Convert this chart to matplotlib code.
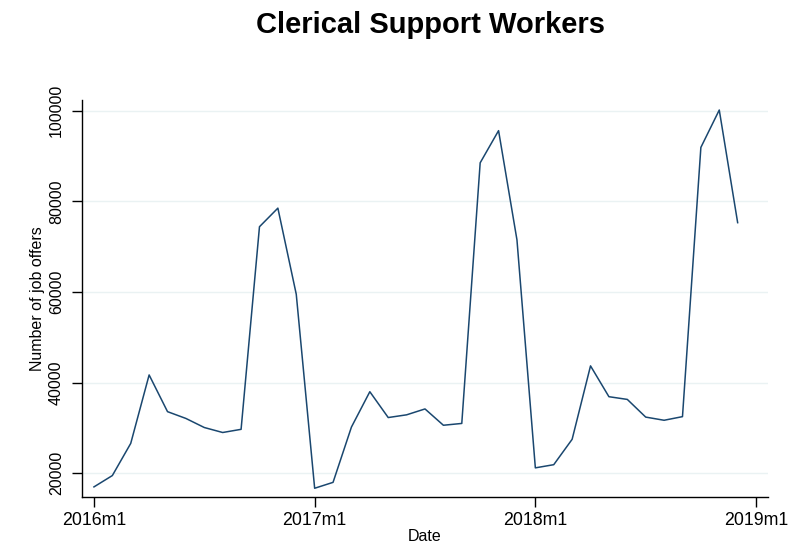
import numpy as np
import matplotlib
matplotlib.use("Agg")
import matplotlib.pyplot as plt

# monthly job offers, 2016m1 .. 2018m12
offers_2016 = [17000, 19500, 26600, 41700, 33600, 32100, 30100, 29000, 29700, 74400, 78500, 59500]
offers_2017 = [16700, 18000, 30200, 38000, 32300, 32900, 34200, 30600, 31000, 88500, 95600, 71500]
offers_2018 = [21200, 21900, 27500, 43700, 36900, 36300, 32400, 31700, 32500, 91900, 100150, 75300]

x_tick_labels = ["2016m1", "2017m1", "2018m1", "2019m1"]
y_ticks = [20000, 40000, 60000, 80000, 100000]

values = offers_2016 + offers_2017 + offers_2018
months = np.arange(len(values))

plt.rcParams["font.family"] = ["Liberation Sans", "DejaVu Sans"]

fig = plt.figure(figsize=(8.02, 5.44), dpi=100)
ax = fig.add_axes([82 / 802, 1 - 497 / 544, (768 - 82) / 802, (497 - 100) / 544])

ax.plot(months, values, color="#1a476f", lw=1.1)

ax.set_xlim(-0.65, 36.65)
ax.set_ylim(14770, 102360)

ax.set_xticks([0, 12, 24, 36])
ax.set_xticklabels(x_tick_labels)
ax.set_yticks(y_ticks)
ax.set_yticklabels([str(v) for v in y_ticks], rotation=90, va="center")

ax.grid(axis="y", color="#eaf2f3", lw=1.0)
ax.set_axisbelow(True)
for s in ["top", "right"]:
    ax.spines[s].set_visible(False)
for s in ["left", "bottom"]:
    ax.spines[s].set_linewidth(1.0)
    ax.spines[s].set_color("black")

ax.tick_params(axis="both", direction="out", length=7, width=1.0, pad=5)
ax.tick_params(axis="x", labelsize=12.8, pad=4)
ax.tick_params(axis="y", labelsize=11.5, pad=6)

ax.set_xlabel("Date", fontsize=11.5, labelpad=0)
ax.set_ylabel("Number of job offers", fontsize=11.5, labelpad=3)

fig.text(431 / 802, 1 - 25 / 544, "Clerical Support Workers", ha="center", va="center",
         fontsize=21, fontweight="bold")

fig.savefig("out.png", dpi=100)
